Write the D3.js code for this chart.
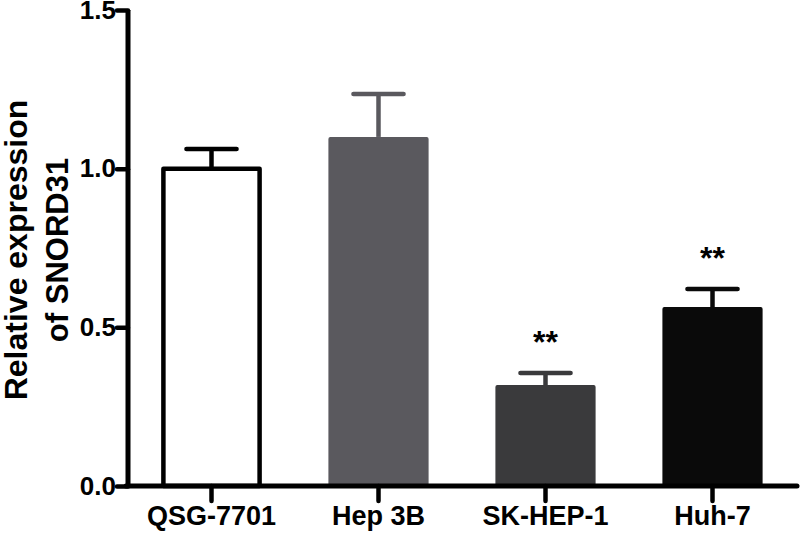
<!DOCTYPE html>
<html>
<head>
<meta charset="utf-8">
<script src="https://cdn.jsdelivr.net/npm/d3@7"></script>
<style>
  body { margin: 0; background: #fff; }
  text { font-family: "Liberation Sans", Arial, sans-serif; font-weight: bold; fill: #000; }
</style>
</head>
<body>
<svg id="chart" width="800" height="534"></svg>
<script>
const categories = ["QSG-7701", "Hep 3B", "SK-HEP-1", "Huh-7"];
const means = [1.0, 1.10, 0.318, 0.564];
const errors = [0.062, 0.135, 0.038, 0.057];
const marks = ["", "", "**", "**"];
const colors = ["#ffffff", "#5a595e", "#3a3a3c", "#0a0a0a"];
const yTicks = [0, 0.5, 1.0, 1.5];

const svg = d3.select("#chart");

// plot area
const x0 = 128, x1 = 796, yTop = 10, yBottom = 486;

const x = d3.scaleBand()
  .domain(categories)
  .range([x0, x1])
  .paddingInner(0.4)
  .paddingOuter(0.2);

const y = d3.scaleLinear()
  .domain([0, 1.5])
  .range([yBottom, yTop]);

// bars
const bars = svg.append("g");
categories.forEach((c, i) => {
  const isWhite = colors[i] === "#ffffff";
  const bx = x(c), bw = x.bandwidth();
  const top = y(means[i]);
  const cx = bx + bw / 2;

  // error bar (drawn first so the bar covers its base)
  const errTop = y(means[i] + errors[i]);
  const errColor = isWhite ? "#000" : colors[i];
  bars.append("line")
    .attr("x1", cx).attr("x2", cx)
    .attr("y1", top).attr("y2", errTop)
    .attr("stroke", errColor).attr("stroke-width", 4.5);
  bars.append("line")
    .attr("x1", cx - bw * 0.25).attr("x2", cx + bw * 0.25)
    .attr("y1", errTop).attr("y2", errTop)
    .attr("stroke", errColor).attr("stroke-width", 4.5)
    .attr("stroke-linecap", "round");

  if (isWhite) {
    bars.append("rect")
      .attr("x", bx + 2).attr("y", top)
      .attr("width", bw - 4).attr("height", yBottom - top)
      .attr("fill", "#fff").attr("stroke", "#000").attr("stroke-width", 4.5)
      .attr("stroke-linejoin", "round");
  } else {
    bars.append("rect")
      .attr("x", bx).attr("y", top)
      .attr("width", bw).attr("height", yBottom - top + 2)
      .attr("rx", 2)
      .attr("fill", colors[i]);
  }

  if (marks[i]) {
    svg.append("text")
      .attr("x", cx).attr("y", errTop - 20)
      .attr("text-anchor", "middle")
      .attr("font-size", 32)
      .text(marks[i]);
  }
});

// y axis
const yAxis = svg.append("g")
  .attr("transform", `translate(${x0},0)`)
  .call(d3.axisLeft(y).tickValues(yTicks).tickFormat(d3.format(".1f")).tickSize(11).tickPadding(1));
yAxis.select(".domain").attr("d", `M0,${yTop}V${yBottom + 2}`).attr("stroke", "#000").attr("stroke-width", 5);
yAxis.selectAll(".tick line").attr("stroke-width", 4.5).attr("stroke-linecap", "round");
yAxis.selectAll(".tick text").attr("font-size", 26).attr("font-family", "Liberation Sans, Arial, sans-serif").attr("font-weight", "bold");

// x axis
const xAxis = svg.append("g")
  .attr("transform", `translate(0,${yBottom})`)
  .call(d3.axisBottom(x).tickSize(15).tickPadding(5));
xAxis.select(".domain").attr("d", `M${x0 - 2},0H${x1 + 1}`).attr("stroke", "#000").attr("stroke-width", 5).attr("stroke-linecap", "round");
xAxis.selectAll(".tick line").attr("stroke-width", 4.5).attr("stroke-linecap", "round");
xAxis.selectAll(".tick text").attr("font-size", 27).attr("font-family", "Liberation Sans, Arial, sans-serif").attr("font-weight", "bold");

// y axis title
const title = svg.append("text")
  .attr("transform", `translate(27,250) rotate(-90)`)
  .attr("text-anchor", "middle")
  .attr("font-size", 32);
title.append("tspan").attr("x", 0).attr("dy", 0).text("Relative expression");
title.append("tspan").attr("x", 0).attr("dy", 41).attr("font-size", 31).text("of SNORD31");
</script>
</body>
</html>
